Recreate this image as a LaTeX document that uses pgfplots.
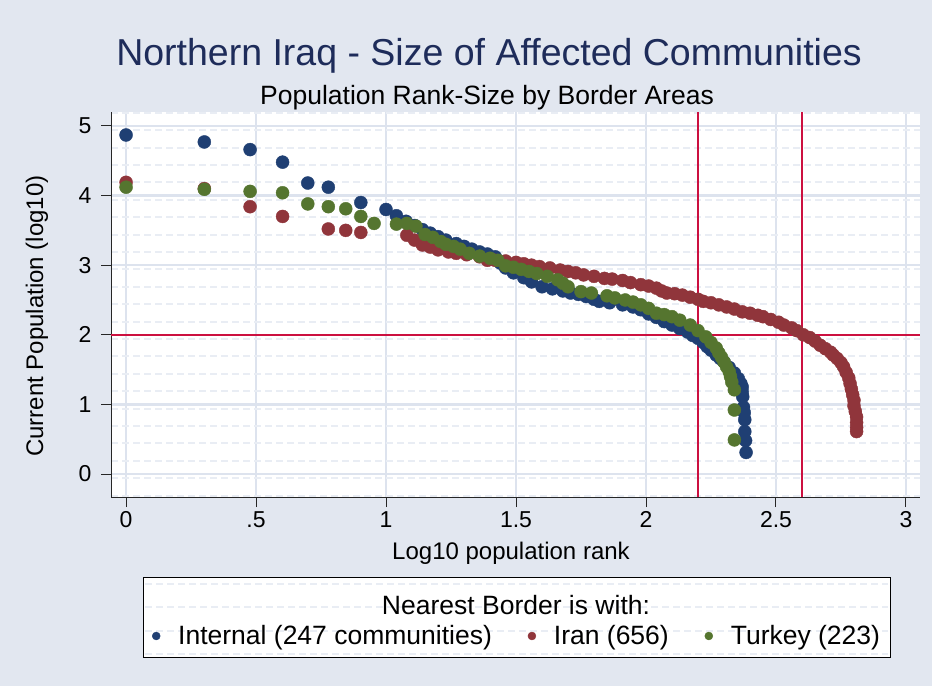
\documentclass[border=0pt]{standalone}
\usepackage{pgfplots}
\pgfplotsset{compat=1.18}
\usepackage{fontspec}
\setmainfont{Liberation Sans}
\definecolor{bgc}{HTML}{E2E7F0}
\definecolor{gridc}{HTML}{DDE3EE}
\definecolor{texc}{HTML}{E9EDF4}
\definecolor{navyc}{HTML}{1F3F73}
\definecolor{maroonc}{HTML}{90353B}
\definecolor{greenc}{HTML}{55752F}
\definecolor{refc}{HTML}{CC1040}
\definecolor{titlec}{HTML}{1E2C5A}

\begin{document}
\begin{tikzpicture}
\fill[bgc] (0pt,0pt) rectangle (932pt,-686pt);
% legend box
\draw[fill=white, draw=black, line width=1pt] (143pt,-577pt) rectangle (890pt,-657pt);
\foreach \yy in {584,607,631,654}
  \draw[texc, line width=2pt, dash pattern=on 7pt off 4pt] (145pt,-\yy pt) -- (888pt,-\yy pt);

\begin{axis}[
  at={(111pt,-497pt)}, anchor=south west,
  width=809pt, height=385pt, scale only axis,
  xmin=-0.058, xmax=3.054, ymin=-0.33, ymax=5.20,
  axis x line*=bottom, axis y line*=left,
  x axis line style={-}, y axis line style={-},
  axis line style={black!85, line width=1pt},
  axis background/.style={fill=white},
  xtick={0,0.5,1,1.5,2,2.5,3},
  xticklabels={0,.5,1,1.5,2,2.5,3},
  ytick={0,1,2,3,4,5},
  yticklabels={0,1,2,3,4,5},
  minor ytick={-0.31,-0.06,0.19,0.44,0.69,0.94,1.19,1.44,1.69,1.94,2.19,2.44,2.69,2.94,3.19,3.44,3.69,3.94,4.19,4.44,4.69,4.94,5.19},
  minor tick length=0pt,
  tick align=outside,
  major tick length=10pt,
  tick style={black!85, line width=1pt},
  xmajorgrids, ymajorgrids, yminorgrids,
  major grid style={gridc, line width=2.5pt},
  minor grid style={texc, line width=2pt, dash pattern=on 7pt off 4pt},
  ticklabel style={font=\fontsize{23}{25}\selectfont},
  yticklabel style={xshift=-6pt},
  xticklabel style={yshift=-1pt},
  extra x ticks={2.2,2.6},
  extra x tick labels={},
  extra y ticks={2},
  extra y tick labels={},
  extra tick style={major grid style={refc, line width=1.6pt}, major tick length=0pt},
  legend style={draw=none, fill=none, at={(0.047,-0.361)}, anchor=west,
    font=\fontsize{26.5}{29}\selectfont,
    /tikz/every even column/.append style={column sep=34pt}},
  legend columns=3,
  legend cell align=left,
  legend image code/.code={\path[draw=none] (-4pt,0pt) -- (20pt,0pt);\draw[#1,mark size=4pt] plot coordinates {(0pt,0pt)};},
]
\addplot[only marks, mark=*, mark size=6.5pt, mark options={draw=navyc, fill=navyc}] coordinates {
(0,4.87) (0.301,4.77) (0.477,4.66) (0.602,4.48) (0.699,4.18) (0.778,4.12)
(0.903,3.90) (1.0,3.80) (1.04,3.71) (1.077,3.63) (1.11,3.57) (1.14,3.51)
(1.17,3.46) (1.20,3.41) (1.23,3.36) (1.27,3.31) (1.30,3.27) (1.33,3.23)
(1.36,3.19) (1.39,3.16) (1.42,3.12) (1.44,3.03) (1.46,2.96) (1.49,2.89)
(1.53,2.82) (1.56,2.76) (1.60,2.69) (1.64,2.66) (1.68,2.63) (1.71,2.60)
(1.74,2.58) (1.77,2.55) (1.80,2.51) (1.82,2.48) (1.86,2.46) (1.91,2.43)
(1.95,2.40) (1.98,2.36) (2.01,2.30) (2.04,2.25) (2.07,2.19) (2.10,2.14)
(2.13,2.09) (2.16,2.04) (2.18,1.99) (2.20,1.95) (2.22,1.89) (2.235,1.83)
(2.25,1.78) (2.27,1.71) (2.285,1.66) (2.30,1.61) (2.32,1.53) (2.34,1.45)
(2.355,1.37) (2.365,1.30) (2.37,1.25) (2.37,1.18) (2.372,1.11) (2.375,0.96)
(2.378,0.88) (2.38,0.78) (2.38,0.61) (2.383,0.48) (2.385,0.31)
};
\addlegendentry{Internal (247 communities)}
\addplot[only marks, mark=*, mark size=6.5pt, mark options={draw=maroonc, fill=maroonc}] coordinates {
(0,4.19) (0.301,4.10) (0.477,3.84) (0.602,3.70) (0.778,3.52) (0.845,3.50)
(0.903,3.47) (1.08,3.43) (1.11,3.36) (1.14,3.29) (1.17,3.26) (1.20,3.22)
(1.24,3.19) (1.27,3.17) (1.31,3.15) (1.36,3.12) (1.39,3.07) (1.42,3.07)
(1.46,3.06) (1.50,3.04) (1.53,3.02) (1.56,3.00) (1.59,2.98) (1.63,2.96)
(1.67,2.93) (1.70,2.91) (1.73,2.89) (1.76,2.86) (1.80,2.84) (1.84,2.81)
(1.87,2.80) (1.91,2.78) (1.94,2.75) (1.98,2.72) (2.01,2.70) (2.04,2.67)
(2.06,2.63) (2.08,2.60) (2.11,2.59) (2.14,2.57) (2.17,2.54) (2.20,2.51)
(2.22,2.48) (2.25,2.46) (2.28,2.43) (2.31,2.40) (2.34,2.37) (2.37,2.33)
(2.40,2.31) (2.43,2.28) (2.45,2.26) (2.48,2.22) (2.51,2.18) (2.53,2.14)
(2.56,2.10) (2.58,2.06) (2.605,2.00) (2.63,1.96) (2.65,1.91) (2.67,1.85)
(2.69,1.80) (2.71,1.75) (2.72,1.71) (2.735,1.66) (2.75,1.60) (2.76,1.54)
(2.77,1.46) (2.78,1.38) (2.785,1.30) (2.79,1.22) (2.795,1.14) (2.80,1.06)
(2.80,0.98) (2.805,0.90) (2.81,0.82) (2.81,0.74) (2.81,0.67) (2.81,0.61)
};
\addlegendentry{Iran (656)}
\addplot[only marks, mark=*, mark size=6.5pt, mark options={draw=greenc, fill=greenc}] coordinates {
(0,4.12) (0.301,4.09) (0.477,4.06) (0.602,4.04) (0.699,3.88) (0.778,3.84)
(0.845,3.81) (0.903,3.70) (0.954,3.60) (1.04,3.59) (1.08,3.60) (1.115,3.56)
(1.15,3.44) (1.18,3.40) (1.21,3.34) (1.23,3.30) (1.26,3.27) (1.285,3.23)
(1.32,3.17) (1.36,3.13) (1.40,3.10) (1.43,3.07) (1.46,2.99) (1.49,2.97)
(1.52,2.94) (1.55,2.91) (1.58,2.88) (1.62,2.84) (1.66,2.79) (1.68,2.74)
(1.70,2.69) (1.75,2.62) (1.79,2.60) (1.85,2.56) (1.88,2.53) (1.92,2.50)
(1.95,2.47) (1.98,2.43) (2.01,2.38) (2.04,2.31) (2.07,2.29) (2.10,2.26)
(2.13,2.21) (2.17,2.14) (2.20,2.06) (2.23,1.97) (2.25,1.89) (2.27,1.81)
(2.28,1.74) (2.29,1.68) (2.30,1.61) (2.31,1.54) (2.32,1.47) (2.325,1.40)
(2.33,1.32) (2.34,1.21) (2.34,0.92) (2.34,0.49)
};
\addlegendentry{Turkey (223)}
\end{axis}

\node[font=\fontsize{37.5}{40}\selectfont, text=titlec, anchor=base] at (489pt,-65pt) {Northern Iraq - Size of Affected Communities};
\node[font=\fontsize{26.5}{29}\selectfont, anchor=base] at (487pt,-104pt) {Population Rank-Size by Border Areas};
\node[font=\fontsize{24}{26}\selectfont, anchor=base] at (511pt,-559pt) {Log10 population rank};
\node[font=\fontsize{24}{26}\selectfont, rotate=90, anchor=base] at (43pt,-316pt) {Current Population (log10)};
\node[font=\fontsize{26.5}{29}\selectfont, anchor=base] at (516pt,-614pt) {Nearest Border is with:};
\end{tikzpicture}
\end{document}
